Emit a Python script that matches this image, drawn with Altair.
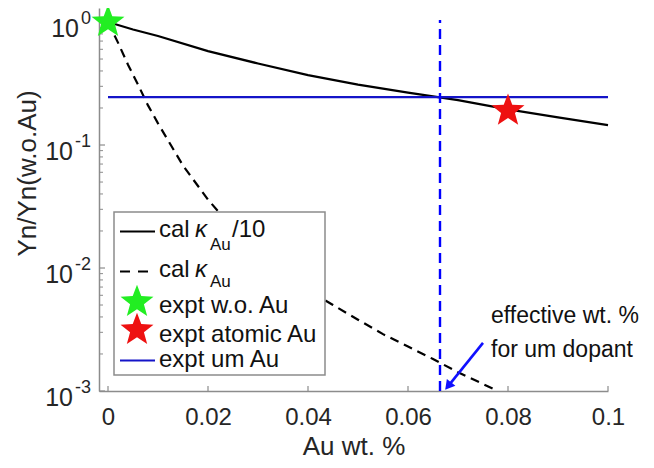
import altair as alt
import pandas as pd

# ---------------- data ----------------
x_solid = [0, 0.005, 0.01, 0.02, 0.03, 0.04, 0.05, 0.06, 0.07, 0.08, 0.09, 0.1]
y_solid = [1.0, 0.87, 0.77, 0.58, 0.46, 0.37, 0.31, 0.267, 0.232, 0.195, 0.168, 0.145]

x_dash = [0, 0.002, 0.004, 0.006, 0.008, 0.01, 0.015, 0.02, 0.025, 0.03, 0.035,
          0.04, 0.045, 0.05, 0.055, 0.06, 0.065, 0.07, 0.075, 0.078]
y_dash = [1.0, 0.68, 0.45, 0.31, 0.21, 0.15, 0.068, 0.036, 0.021, 0.0135, 0.0094,
          0.0066, 0.0050, 0.0038, 0.0029, 0.0023, 0.00182, 0.00142, 0.00114, 0.001]

green_x, green_y = [0.0], [1.0]
red_x, red_y = [0.08], [0.19]

um_y = [0.245]
um_x_range = [0.0, 0.1]
eff_x = [0.0664]
eff_y_range = [0.001, 1.04]

arrow_from = [0.075, 0.00246]
arrow_to = [0.06803, 0.001096]
note_x = [0.0766, 0.0766]
note_y = [0.00357, 0.00189]
note_text = ["effective wt. %", "for um dopant"]

x_ticks = [0, 0.02, 0.04, 0.06, 0.08, 0.1]
y_major = [0.001, 0.01, 0.1, 1]
y_exp = ["-3", "-2", "-1", "0"]
y_minor = [k * 10.0 ** e for e in (-3, -2, -1) for k in range(2, 10)]

# ---------------- styling ----------------
FONT = "Liberation Sans"
TXT = "#111111"
LAB = "#262626"
AX = "#8c8c8c"
W, H = 509, 383
STAR = ("M0,-1L0.2469,-0.3398L0.9511,-0.309L0.3995,0.1298L0.5878,0.809L0,0.42"
        "L-0.5878,0.809L-0.3995,0.1298L-0.9511,-0.309L-0.2469,-0.3398Z")
STAR_SIZE = 1200

xscale = alt.Scale(domain=[-0.0018, 0.1], nice=False, zero=False)
yscale = alt.Scale(type="log", domain=[0.001, 1.3], nice=False)

xaxis = alt.Axis(values=x_ticks, format="~g", ticks=False, tickSize=0, grid=False,
                 orient="bottom", domainColor=AX, domainWidth=1.5, labelFont=FONT,
                 labelFontSize=24, labelColor=LAB, labelBaseline="alphabetic",
                 labelPadding=33, labelFlush=False, title="Au wt. %", titleFont=FONT,
                 titleFontSize=26, titleFontWeight="normal", titleColor=LAB,
                 titleBaseline="alphabetic", titleY=63)
yaxis = alt.Axis(labels=False, ticks=False, tickSize=0, grid=False, domainColor=AX,
                 domainWidth=1.5, title="Yn/Yn(w.o.Au)", titleFont=FONT,
                 titleFontSize=26, titleFontWeight="normal", titleColor=LAB,
                 titleBaseline="middle", titleAngle=270, titleX=-72, titleY=165)

df_solid = pd.DataFrame({"x": x_solid, "y": y_solid})
df_dash = pd.DataFrame({"x": x_dash, "y": y_dash})
one = pd.DataFrame({"a": [0]})

solid = alt.Chart(df_solid).mark_line(color="black", strokeWidth=2.2).encode(
    x=alt.X("x:Q", scale=xscale, axis=xaxis),
    y=alt.Y("y:Q", scale=yscale, axis=yaxis))
dashed = alt.Chart(df_dash).mark_line(color="black", strokeWidth=2.2,
                                       strokeDash=[9, 6]).encode(x="x:Q", y="y:Q")

# inward ticks
xt = alt.Chart(pd.DataFrame({"x": x_ticks})).mark_rule(color=AX, strokeWidth=1.2).encode(
    x="x:Q", y=alt.value(H), y2=alt.value(H - 5))
ytM = alt.Chart(pd.DataFrame({"y": y_major})).mark_rule(color=AX, strokeWidth=1.2).encode(
    y="y:Q", x=alt.value(0), x2=alt.value(6))
ytm = alt.Chart(pd.DataFrame({"y": y_minor})).mark_rule(color=AX, strokeWidth=1.0).encode(
    y="y:Q", x=alt.value(0), x2=alt.value(4))

# y labels 10^k
df_lab = pd.DataFrame({"y": y_major, "e": y_exp})
lab_base1 = alt.Chart(df_lab).transform_filter("length(datum.e) == 1").mark_text(
    text="10", align="right", baseline="alphabetic", dy=15, font=FONT, fontSize=25,
    color=LAB).encode(y="y:Q", x=alt.value(-20))
lab_base2 = alt.Chart(df_lab).transform_filter("length(datum.e) == 2").mark_text(
    text="10", align="right", baseline="alphabetic", dy=15, font=FONT, fontSize=25,
    color=LAB).encode(y="y:Q", x=alt.value(-26))
lab_exp = alt.Chart(df_lab).mark_text(
    align="right", baseline="alphabetic", dy=1.5, font=FONT, fontSize=18,
    color=LAB).encode(y="y:Q", x=alt.value(-8), text="e:N")

# blue lines
um = alt.Chart(pd.DataFrame({"x": [um_x_range[0]], "x2": [um_x_range[1]], "y": um_y})).mark_rule(
    color="#1414c8", strokeWidth=2.2).encode(x="x:Q", x2="x2:Q", y="y:Q")
eff = alt.Chart(pd.DataFrame({"x": eff_x, "y": [eff_y_range[0]], "y2": [eff_y_range[1]]})).mark_rule(
    color="#0000ff", strokeWidth=2.4, strokeDash=[10, 6]).encode(x="x:Q", y="y:Q", y2="y2:Q")

arrow = alt.Chart(pd.DataFrame({"x": [arrow_from[0]], "y": [arrow_from[1]],
                                "x2": [arrow_to[0]], "y2": [arrow_to[1]]})).mark_rule(
    color="#1010ff", strokeWidth=2.6).encode(x="x:Q", y="y:Q", x2="x2:Q", y2="y2:Q")
head = alt.Chart(pd.DataFrame({"x": [arrow_to[0]], "y": [arrow_to[1]]})).mark_point(
    shape="triangle-up", filled=True, size=120, angle=219, color="#1010ff", opacity=1,
    strokeWidth=0).encode(x="x:Q", y="y:Q")
note = alt.Chart(pd.DataFrame({"x": note_x, "y": note_y, "t": note_text})).mark_text(
    align="left", baseline="alphabetic", font=FONT, fontSize=23, color=TXT).encode(
    x="x:Q", y="y:Q", text="t:N")

# stars
star_g = alt.Chart(pd.DataFrame({"x": green_x, "y": green_y})).mark_point(
    shape=STAR, filled=True, size=STAR_SIZE, color="#22ee22", opacity=1, strokeWidth=0).encode(
    x="x:Q", y="y:Q")
star_r = alt.Chart(pd.DataFrame({"x": red_x, "y": red_y})).mark_point(
    shape=STAR, filled=True, size=STAR_SIZE, color="#ee1111", opacity=1, strokeWidth=0).encode(
    x="x:Q", y="y:Q")

# legend
def ltext(t, x, y, size=24, style="normal"):
    return alt.Chart(one).mark_text(text=t, align="left", baseline="alphabetic", font=FONT,
                                    fontSize=size, fontStyle=style, color=TXT).encode(
        x=alt.value(x), y=alt.value(y))

leg_box = alt.Chart(one).mark_rect(fill="white", stroke=AX, strokeWidth=1.5).encode(
    x=alt.value(15), x2=alt.value(226), y=alt.value(204), y2=alt.value(367))
leg_l1 = alt.Chart(one).mark_rule(color="black", strokeWidth=2.2).encode(
    x=alt.value(21), x2=alt.value(56), y=alt.value(223.5))
leg_l2 = alt.Chart(one).mark_rule(color="black", strokeWidth=2.2, strokeDash=[10, 8]).encode(
    x=alt.value(21), x2=alt.value(53), y=alt.value(263.5))
leg_l5 = alt.Chart(one).mark_rule(color="#1414c8", strokeWidth=2.2).encode(
    x=alt.value(21), x2=alt.value(56), y=alt.value(352.5))
leg_sg = alt.Chart(one).mark_point(shape=STAR, filled=True, size=STAR_SIZE, color="#22ee22",
                                   opacity=1, strokeWidth=0).encode(x=alt.value(38), y=alt.value(294))
leg_sr = alt.Chart(one).mark_point(shape=STAR, filled=True, size=STAR_SIZE, color="#ee1111",
                                   opacity=1, strokeWidth=0).encode(x=alt.value(38), y=alt.value(322))
leg_texts = [
    ltext("cal", 60, 229), ltext("κ", 96, 229, style="italic"), ltext("Au", 111, 242, 17),
    ltext("/10", 133, 229),
    ltext("cal", 60, 269), ltext("κ", 96, 269, style="italic"), ltext("Au", 111, 279, 17),
    ltext("expt w.o. Au", 60, 305), ltext("expt atomic Au", 60, 334),
    ltext("expt um Au", 60, 359),
]

chart = alt.layer(
    solid, dashed, xt, ytM, ytm, lab_base1, lab_base2, lab_exp, um, eff,
    leg_box, leg_l1, leg_l2, leg_l5, *leg_texts,
    star_r, star_g, leg_sg, leg_sr, arrow, head, note
).properties(
    width=W, height=H,
    autosize=alt.AutoSizeParams(type="none"),
    padding={"left": 91, "top": 0, "right": 38, "bottom": 68},
).configure_view(strokeWidth=0)

chart.save("out.html", embed_options={"renderer": "svg", "actions": False})
